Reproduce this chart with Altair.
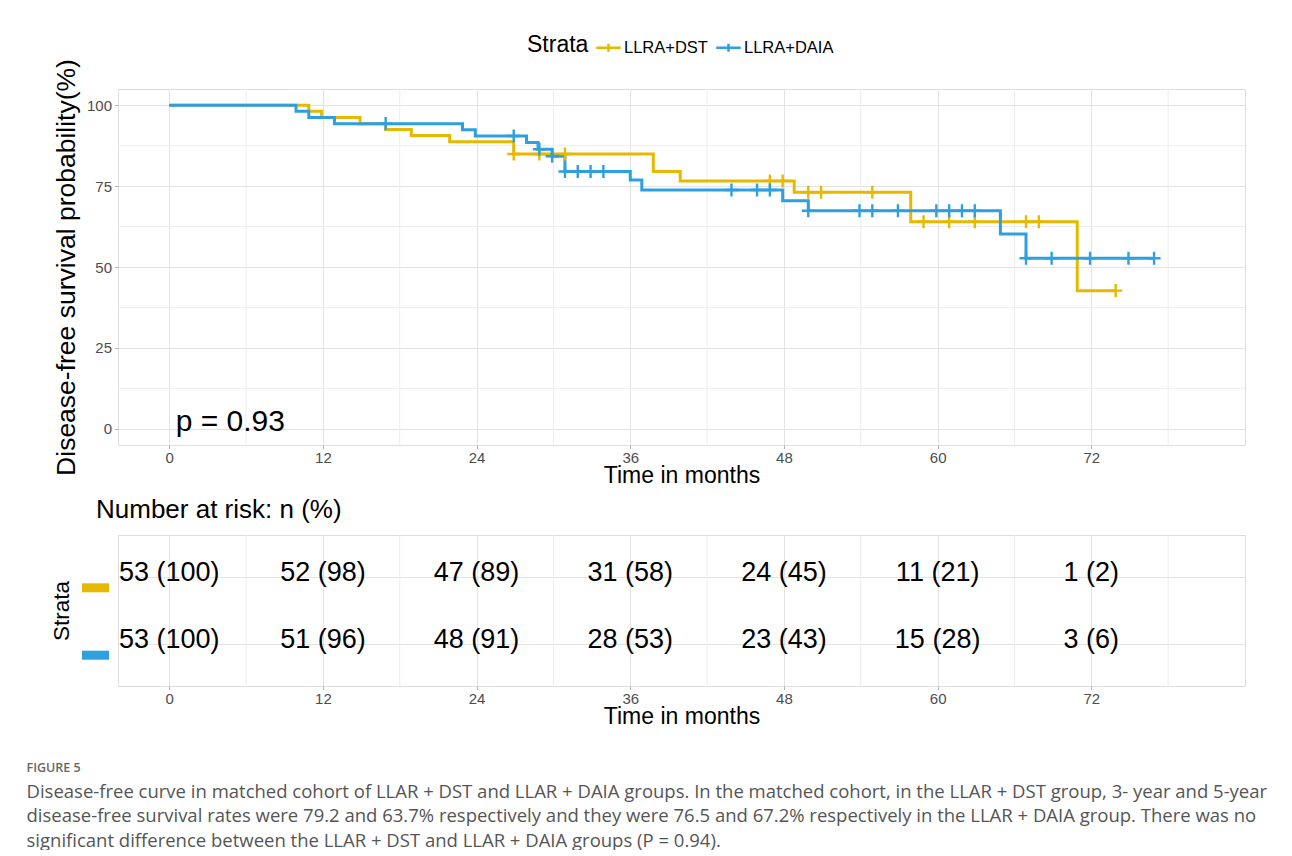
import altair as alt
import pandas as pd

# ---------------- data ----------------
groups = ["LLRA+DST", "LLRA+DAIA"]

# Kaplan-Meier step points (time in months, survival %)
dst_time = [0, 10.9, 11.9, 14.9, 16.9, 18.9, 21.9, 26.9, 37.8, 39.9, 48.8, 57.9, 70.9, 73.9]
dst_surv = [100, 98.1, 96.2, 94.3, 92.5, 90.6, 88.7, 84.9, 79.5, 76.6, 73.1, 64.0, 42.7, 42.7]
dst_cens_time = [26.9, 28.9, 30.9, 46.9, 47.9, 49.9, 50.9, 54.9, 58.9, 60.9, 62.9, 66.9, 67.9, 73.9]
dst_cens_surv = [84.9, 84.9, 84.9, 76.6, 76.6, 73.1, 73.1, 73.1, 64.0, 64.0, 64.0, 64.0, 64.0, 42.7]

daia_time = [0, 9.9, 10.9, 12.9, 22.9, 23.9, 27.9, 28.8, 29.9, 30.9, 36.0, 36.9, 47.9, 49.9, 64.9, 66.9, 76.9]
daia_surv = [100, 98.1, 96.2, 94.3, 92.4, 90.5, 88.5, 86.4, 84.2, 79.5, 76.9, 73.8, 70.5, 67.4, 60.2, 52.7, 52.7]
daia_cens_time = [16.9, 26.9, 28.9, 29.9, 30.9, 31.9, 32.9, 33.9, 43.9, 45.9, 46.9, 49.9,
                  53.9, 54.9, 56.9, 59.9, 60.9, 61.9, 62.9, 66.9, 68.9, 71.9, 74.9, 76.9]
daia_cens_surv = [94.3, 90.5, 86.4, 84.2, 79.5, 79.5, 79.5, 79.5, 73.8, 73.8, 73.8, 67.4,
                  67.4, 67.4, 67.4, 67.4, 67.4, 67.4, 67.4, 52.7, 52.7, 52.7, 52.7, 52.7]

risk_times = [0, 12, 24, 36, 48, 60, 72]
dst_risk = ["53 (100)", "52 (98)", "47 (89)", "31 (58)", "24 (45)", "11 (21)", "1 (2)"]
daia_risk = ["53 (100)", "51 (96)", "48 (91)", "28 (53)", "23 (43)", "15 (28)", "3 (6)"]

x_major = [0, 12, 24, 36, 48, 60, 72]
x_minor = [6, 18, 30, 42, 54, 66, 78]
y_major = [0, 25, 50, 75, 100]
y_minor = [12.5, 37.5, 62.5, 87.5]

p_label = ["p = 0.93"]
p_x = [0.5]
p_y = [2.0]

caption_head = "FIGURE 5"
caption_lines = [
    "Disease-free curve in matched cohort of LLAR + DST and LLAR + DAIA groups. In the matched cohort, in the LLAR + DST group, 3- year and 5-year",
    "disease-free survival rates were 79.2 and 63.7% respectively and they were 76.5 and 67.2% respectively in the LLAR + DAIA group. There was no",
    "significant difference between the LLAR + DST and LLAR + DAIA groups (P = 0.94).",
]

# ---------------- tables ----------------
curve = pd.concat([
    pd.DataFrame({"time": dst_time, "surv": dst_surv, "strata": groups[0]}),
    pd.DataFrame({"time": daia_time, "surv": daia_surv, "strata": groups[1]}),
], ignore_index=True)
cens = pd.concat([
    pd.DataFrame({"time": dst_cens_time, "surv": dst_cens_surv, "strata": groups[0]}),
    pd.DataFrame({"time": daia_cens_time, "surv": daia_cens_surv, "strata": groups[1]}),
], ignore_index=True)
risk = pd.concat([
    pd.DataFrame({"time": risk_times, "label": dst_risk, "strata": groups[0]}),
    pd.DataFrame({"time": risk_times, "label": daia_risk, "strata": groups[1]}),
], ignore_index=True)

# ---------------- styling ----------------
YELLOW = "#E7B800"
BLUE = "#2E9FDF"
FONT = "Liberation Sans"
GRID = "#e3e3e3"
GRID_MINOR = "#ededed"
W = 1127
PLUS = "M-1,0H1M0,-1V1"

xscale = alt.Scale(domain=[-4, 84], nice=False, zero=False)
yscale = alt.Scale(domain=[-5, 105], nice=False, zero=False)
cscale = alt.Scale(domain=groups, range=[YELLOW, BLUE])


def xaxis():
    return alt.Axis(values=x_major, title="Time in months", grid=True, gridColor=GRID,
                    gridWidth=1, domain=False, ticks=True, tickColor="#b3b3b3", tickSize=3.5,
                    labelColor="#4d4d4d", labelFontSize=15, labelFont=FONT, labelPadding=2,
                    titleFont=FONT, titleFontSize=23, titleFontWeight="normal",
                    titleColor="black", titlePadding=-1)


def yaxis():
    return alt.Axis(values=y_major, title="Disease-free survival probability(%)", grid=True,
                    gridColor=GRID, gridWidth=1, domain=False, ticks=True, tickColor="#b3b3b3",
                    tickSize=3.5, labelColor="#4d4d4d", labelFontSize=15, labelFont=FONT,
                    labelPadding=3, titleFont=FONT, titleFontSize=26.5, titleFontWeight="normal",
                    titleColor="black", titlePadding=6)


legend = alt.Legend(title="Strata", orient="none", legendX=409, legendY=-55,
                    direction="horizontal", titleOrient="left", titleFont=FONT,
                    titleFontSize=23, titleFontWeight="normal", titleColor="black",
                    labelFont=FONT, labelFontSize=16.5, labelColor="black",
                    symbolType="M-1,0H1M0,-0.32V0.32", symbolSize=600, symbolStrokeWidth=2.5,
                    columnPadding=3, labelOffset=2, titlePadding=6)

X = alt.X("time:Q", scale=xscale, axis=xaxis())
Y = alt.Y("surv:Q", scale=yscale, axis=yaxis())
C = alt.Color("strata:N", scale=cscale, legend=legend, sort=groups)

minor_x = alt.Chart(pd.DataFrame({"time": x_minor})).mark_rule(
    color=GRID_MINOR, strokeWidth=1).encode(x=X)
minor_y = alt.Chart(pd.DataFrame({"surv": y_minor})).mark_rule(
    color=GRID_MINOR, strokeWidth=1).encode(y=Y)

lines = alt.Chart(curve).mark_line(interpolate="step-after", strokeWidth=3).encode(
    x=X, y=Y, color=C, order=alt.Order("time:Q"))
points = alt.Chart(cens).mark_point(shape=PLUS, size=170, strokeWidth=2.4, filled=False,
                                    opacity=1).encode(x=X, y=Y, color=C)
ptext = alt.Chart(pd.DataFrame({"time": p_x, "surv": p_y, "t": p_label})).mark_text(
    align="left", baseline="middle", fontSize=30, font=FONT, color="black").encode(
    x=X, y=Y, text="t:N")

main = alt.layer(minor_x, minor_y, lines, points, ptext).properties(width=W, height=356)

# ---------------- risk table ----------------
ty = alt.Y("strata:N", scale=alt.Scale(domain=groups, type="point", padding=0.62),
           axis=alt.Axis(labels=False, ticks=False, domain=False, grid=True, gridColor=GRID,
                         title="Strata", titleFont=FONT, titleFontSize=22.5,
                         titleFontWeight="normal", titleColor="black", titlePadding=45))
tx = alt.X("time:Q", scale=xscale, axis=xaxis())

t_minor = alt.Chart(pd.DataFrame({"time": x_minor})).mark_rule(
    color=GRID_MINOR, strokeWidth=1).encode(x=tx)
t_text = alt.Chart(risk).mark_text(fontSize=27, font=FONT, color="black",
                                   baseline="middle", dy=-4).encode(x=tx, y=ty, text="label:N")
bar_dst = alt.Chart(pd.DataFrame({"strata": [groups[0]]})).mark_rule(
    strokeWidth=9, yOffset=11, color=YELLOW).encode(y=ty, x=alt.value(-36), x2=alt.value(-9))
bar_daia = alt.Chart(pd.DataFrame({"strata": [groups[1]]})).mark_rule(
    strokeWidth=9, yOffset=11, color=BLUE).encode(y=ty, x=alt.value(-36), x2=alt.value(-9))

table = alt.layer(t_minor, t_text, bar_dst, bar_daia).properties(
    width=W, height=151,
    title=alt.TitleParams(text="Number at risk: n (%)", anchor="start", frame="group", dx=-22,
                          font=FONT, fontSize=26, fontWeight="normal", color="black", offset=12))

chart = alt.vconcat(main, table, spacing=8).properties(
    padding={"left": 18, "top": 26, "right": 0, "bottom": 0},
    title=alt.TitleParams(text=caption_head, subtitle=caption_lines, orient="bottom",
                          anchor="start", frame="bounds", dx=-23, offset=33,
                          font="Open Sans", fontSize=12.5, fontWeight=600, color="#666666",
                          subtitleFont="Open Sans", subtitleFontSize=18.5, subtitleColor="#555555",
                          subtitleLineHeight=24.5, subtitlePadding=8),
).configure_view(stroke="#b3b3b3", strokeWidth=1.2).configure(background="white")

chart.save("out.html", embed_options={"renderer": "svg", "actions": False})
